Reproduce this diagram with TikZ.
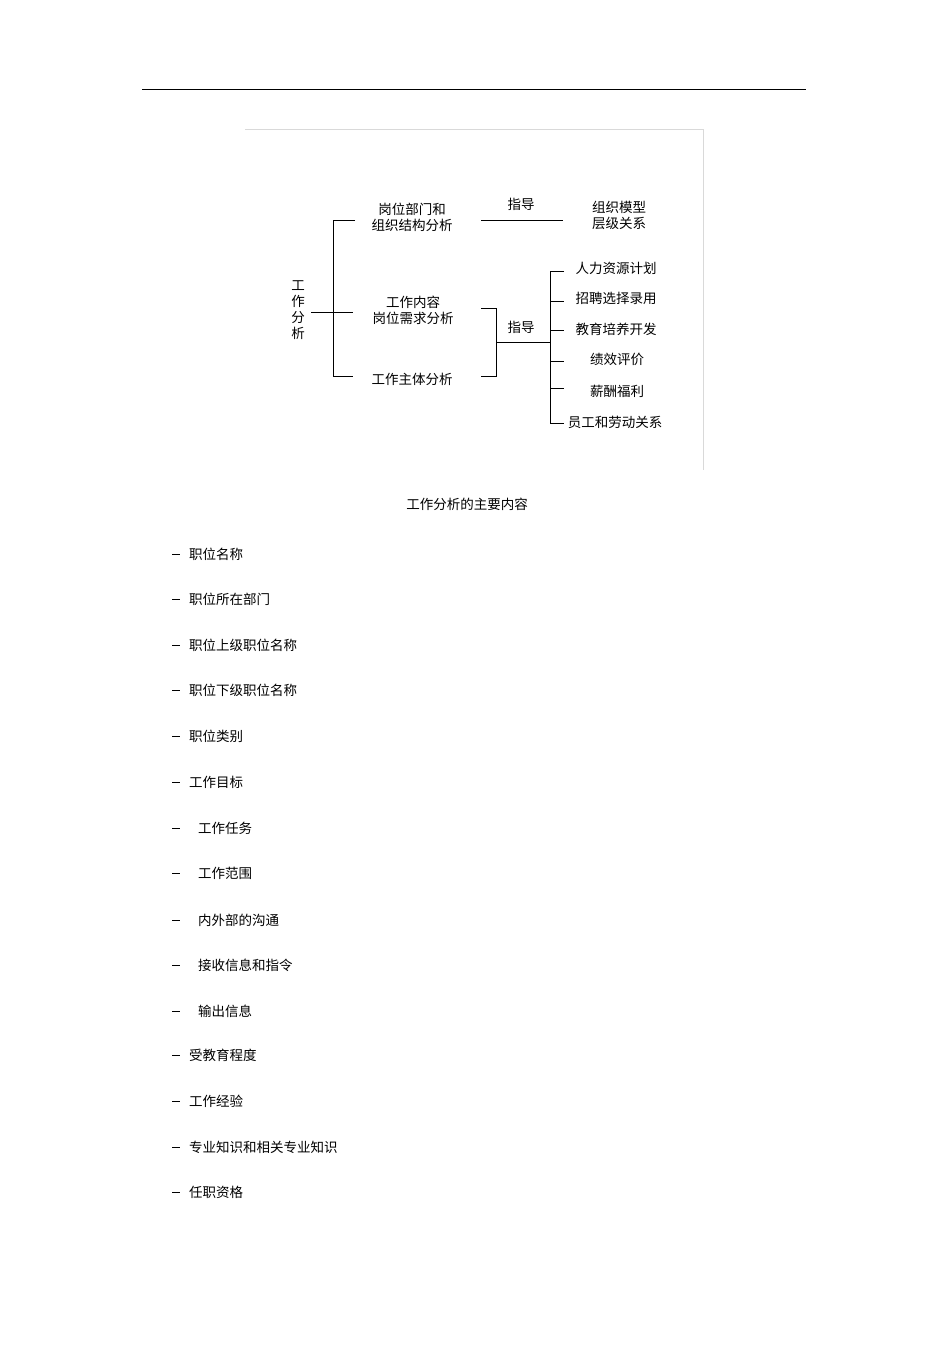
\documentclass[tikz,border=0pt]{standalone}
\usepackage{fontspec}
\setmainfont{Noto Sans CJK SC}
\begin{document}
\begin{tikzpicture}[x=1pt,y=-1pt,
  t/.style={font=\fontsize{13.5}{16}\selectfont,inner sep=0pt,align=center},
  li/.style={font=\fontsize{13.5}{16}\selectfont,inner sep=0pt,anchor=west},
  ln/.style={line width=0.9pt},
  fr/.style={line width=0.4pt,draw=black!15}]
\useasboundingbox (0,0) rectangle (950,1345);
\draw[line width=0.8pt] (142,89) -- (806,89);
\draw[fr] (245,129) -- (703,129) -- (703,470);
% left
\node[t] (root) at (298,310) {工\\作\\分\\析};
\node[t] (a) at (412,217) {岗位部门和\\组织结构分析};
\node[t] (b) at (413,310) {工作内容\\岗位需求分析};
\node[t] (c) at (412,379) {工作主体分析};
\coordinate (lt) at (333,220); \coordinate (lb) at (333,376);
\draw[ln] (355,220) -- (lt) -- (lb) -- (353,376);
\draw[ln] (311,312) -- (353,312);
\node[t] (g1) at (521,204) {指导};
\node[t] (m) at (619,215) {组织模型\\层级关系};
\draw[ln] (481,220) -- (563,220);
% right bracket
\draw[ln] (481,308) -- (496,308) -- (496,376) -- (481,376);
\draw[ln] (496,342) -- (550,342);
\node[t] (g2) at (521,327) {指导};
\draw[ln] (564,271) -- (550,271) -- (550,423) -- (564,423);
\foreach \y in {301,330,361,388} \draw[ln] (550,\y) -- (564,\y);
\node[t] (r1) at (616,268) {人力资源计划};
\node[t] (r2) at (616,298) {招聘选择录用};
\node[t] (r3) at (616,329) {教育培养开发};
\node[t] (r4) at (617,359) {绩效评价};
\node[t] (r5) at (617,391) {薪酬福利};
\node[t] (r6) at (615,422) {员工和劳动关系};
\node[t] (cap) at (467,504) {工作分析的主要内容};
% list
\foreach \y/\x/\s [count=\i] in {554/189/职位名称,599/189/职位所在部门,645/189/职位上级职位名称,690/189/职位下级职位名称,736/189/职位类别,782/189/工作目标,828/198/工作任务,873/198/工作范围,920/198/内外部的沟通,965/198/接收信息和指令,1011/198/输出信息,1055/189/受教育程度,1101/189/工作经验,1147/189/专业知识和相关专业知识,1192/189/任职资格}{
  \draw[line width=1pt] (172,\y) -- (180,\y);
  \node[li] (l\i) at (\x,\y) {\s};
}
\end{tikzpicture}
\end{document}
